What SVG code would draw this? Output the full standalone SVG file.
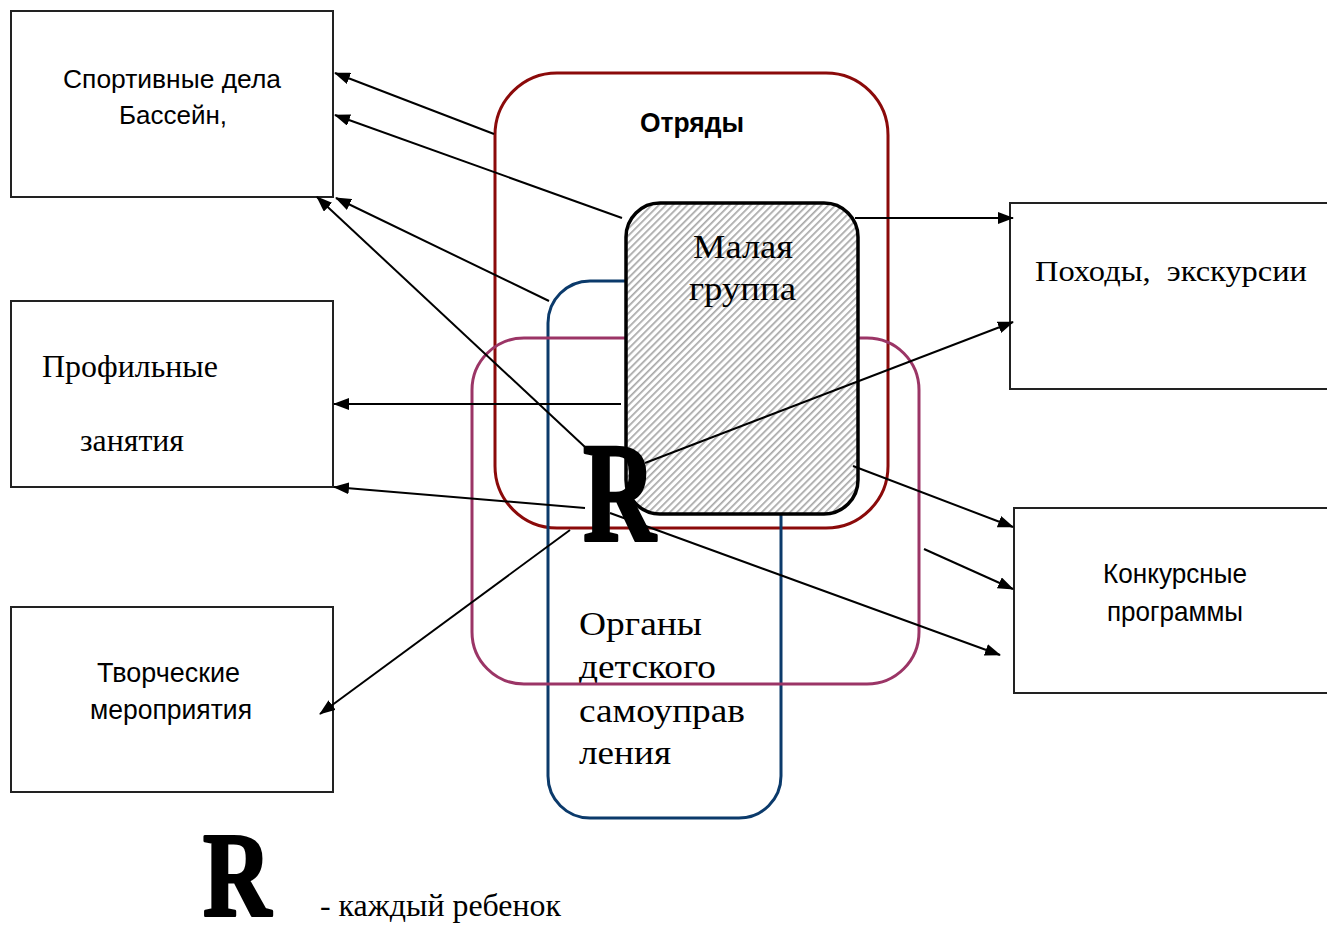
<svg xmlns="http://www.w3.org/2000/svg" width="1327" height="927" viewBox="0 0 1327 927">
<style>
.box{fill:#fff;stroke:#222;stroke-width:2}
.sans{font-family:"Liberation Sans",Arial,sans-serif;fill:#000}
.serif{font-family:"Liberation Serif","Times New Roman",serif;fill:#000}
.bigR{font-family:"Liberation Serif","Times New Roman",serif;font-weight:bold;fill:#000;stroke:#000;stroke-width:3;stroke-linejoin:round}
.con{stroke:#000;stroke-width:2;fill:none;marker-end:url(#arr)}
</style>
<defs>
<marker id="arr" markerUnits="userSpaceOnUse" markerWidth="16" markerHeight="12" refX="15" refY="6" orient="auto">
<path d="M0,0 L16,6 L0,12 Z" fill="#000"/>
</marker>
<pattern id="hatch" patternUnits="userSpaceOnUse" width="5" height="10" patternTransform="rotate(45)">
<rect width="5" height="10" fill="#fff"/>
<rect x="0" width="1.7" height="10" fill="#a8a8a8"/>
</pattern>
</defs>
<rect width="1327" height="927" fill="#fff"/>

<g id="box-sport">
<rect class="box" x="11" y="11" width="322" height="186"/>
<text class="sans" x="63" y="88" font-size="26" textLength="218" lengthAdjust="spacingAndGlyphs">Спортивные дела</text>
<text class="sans" x="119" y="124" font-size="26" textLength="108" lengthAdjust="spacingAndGlyphs">Бассейн,</text>
</g>
<g id="box-profile">
<rect class="box" x="11" y="301" width="322" height="186"/>
<text class="serif" x="42" y="377" font-size="31" textLength="176" lengthAdjust="spacingAndGlyphs">Профильные</text>
<text class="serif" x="80" y="451" font-size="31" textLength="104" lengthAdjust="spacingAndGlyphs">занятия</text>
</g>
<g id="box-creative">
<rect class="box" x="11" y="607" width="322" height="185"/>
<text class="sans" x="97" y="682" font-size="28" textLength="143" lengthAdjust="spacingAndGlyphs">Творческие</text>
<text class="sans" x="90" y="719" font-size="28" textLength="162" lengthAdjust="spacingAndGlyphs">мероприятия</text>
</g>
<g id="box-hikes">
<rect class="box" x="1010" y="203" width="330" height="186"/>
<text class="serif" x="1035" y="281" font-size="30" textLength="272" lengthAdjust="spacingAndGlyphs" xml:space="preserve">Походы,  экскурсии</text>
</g>
<g id="box-contest">
<rect class="box" x="1014" y="508" width="326" height="185"/>
<text class="sans" x="1103" y="583" font-size="28" textLength="144" lengthAdjust="spacingAndGlyphs">Конкурсные</text>
<text class="sans" x="1107" y="621" font-size="28" textLength="136" lengthAdjust="spacingAndGlyphs">программы</text>
</g>

<g id="otryady">
<rect x="495" y="73" width="393" height="455" rx="62" fill="none" stroke="#8B0A0A" stroke-width="3"/>
<text class="sans" x="640" y="132" font-size="28" font-weight="bold" textLength="104" lengthAdjust="spacingAndGlyphs">Отряды</text>
</g>
<g id="organy">
<rect x="548" y="281" width="233" height="537" rx="42" fill="none" stroke="#0B3A6B" stroke-width="3"/>
<text class="serif" x="579" y="635" font-size="34" textLength="123" lengthAdjust="spacingAndGlyphs">Органы</text>
<text class="serif" x="579" y="678" font-size="34" textLength="137" lengthAdjust="spacingAndGlyphs">детского</text>
<text class="serif" x="579" y="722" font-size="34" textLength="166" lengthAdjust="spacingAndGlyphs">самоуправ</text>
<text class="serif" x="579" y="764" font-size="34" textLength="92" lengthAdjust="spacingAndGlyphs">ления</text>
</g>
<g id="pink-circle">
<rect x="472" y="338" width="447" height="346" rx="52" fill="none" stroke="#9B3566" stroke-width="3"/>
</g>
<g id="malaya">
<rect x="626" y="203" width="232" height="311" rx="34" fill="url(#hatch)" stroke="#000" stroke-width="3.5"/>
<text class="serif" x="693" y="258" font-size="34" textLength="100" lengthAdjust="spacingAndGlyphs">Малая</text>
<text class="serif" x="689" y="300" font-size="34" textLength="107" lengthAdjust="spacingAndGlyphs">группа</text>
</g>

<g id="connectors">
<line class="con" x1="494" y1="134" x2="335" y2="73"/>
<line class="con" x1="622" y1="218" x2="335" y2="115"/>
<line class="con" x1="549" y1="301" x2="336" y2="198"/>
<line class="con" x1="585" y1="447" x2="317" y2="197"/>
<line class="con" x1="621" y1="404" x2="334" y2="404"/>
<line class="con" x1="585" y1="508" x2="334" y2="487"/>
<line class="con" x1="570" y1="530" x2="320" y2="714"/>
<line class="con" x1="855" y1="218" x2="1013" y2="218"/>
<line class="con" x1="645" y1="463" x2="1013" y2="322"/>
<line class="con" x1="853" y1="466" x2="1013" y2="527"/>
<line class="con" x1="924" y1="549" x2="1013" y2="589"/>
<line class="con" x1="610" y1="513" x2="1000" y2="655"/>
</g>

<g id="child">
<text class="bigR" font-size="142" transform="translate(583,540) scale(0.71,1)">R</text>
</g>
<g id="legend">
<text class="bigR" font-size="121" transform="translate(203,916) scale(0.78,1)">R</text>
<text class="serif" x="320" y="916" font-size="32" textLength="241" lengthAdjust="spacingAndGlyphs">- каждый ребенок</text>
</g>
</svg>
